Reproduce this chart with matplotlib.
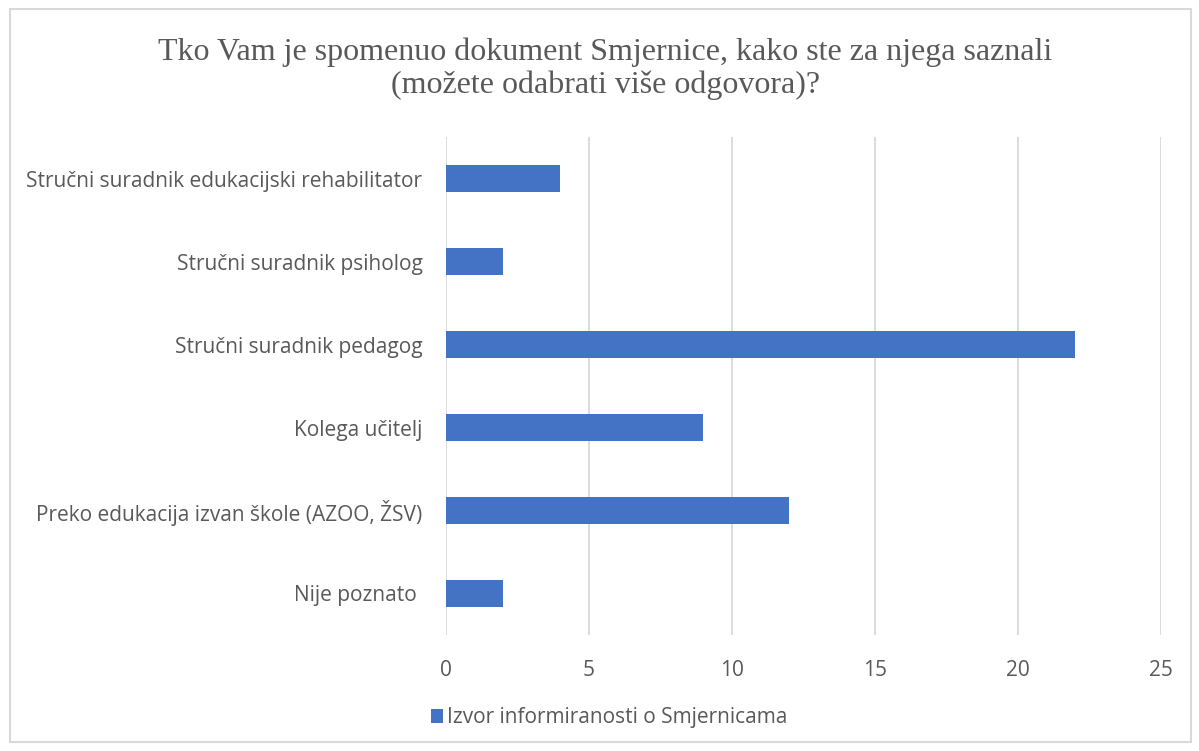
import matplotlib.pyplot as plt
from matplotlib.patches import Rectangle

# categories listed top to bottom as in the chart
categories = ["Stručni suradnik edukacijski rehabilitator",
              "Stručni suradnik psiholog",
              "Stručni suradnik pedagog",
              "Kolega učitelj",
              "Preko edukacija izvan škole (AZOO, ŽSV)",
              "Nije poznato "]
values = [4, 2, 22, 9, 12, 2]
series_name = "Izvor informiranosti o Smjernicama"
x_ticks = [0, 5, 10, 15, 20, 25]

title = "Tko Vam je spomenuo dokument Smjernice, kako ste za njega saznali\n(možete odabrati više odgovora)?"

text_color = "#595959"
bar_color = "#4472C4"
sans = ["Open Sans", "DejaVu Sans"]

fig = plt.figure(figsize=(11.99, 7.51), dpi=100)
ax = fig.add_axes([0.372, 0.1545, 0.596, 0.663])

pos = list(range(len(categories)))[::-1]
ax.barh(pos, values, height=0.32, color=bar_color, label=series_name, zorder=3)

ax.set_xlim(0, 25)
ax.set_ylim(-0.5, len(categories) - 0.5)
ax.set_xticks(x_ticks)
ax.set_yticks(pos)
ax.set_yticklabels(categories)
ax.grid(axis="x", color="#d9d9d9", linewidth=1.3, zorder=0)
for s in ax.spines.values():
    s.set_visible(False)
ax.tick_params(length=0, labelsize=15, labelcolor=text_color)
ax.tick_params(axis="y", pad=17)
ax.tick_params(axis="x", pad=18)
for lbl in ax.get_xticklabels() + ax.get_yticklabels():
    lbl.set_family(sans)

fig.text(0.505, 0.95, title, ha="center", va="top", fontsize=23,
         family=["Liberation Serif"], color=text_color, linespacing=1.15)

leg = fig.legend(loc="center", bbox_to_anchor=(0.508, 0.044), frameon=False,
                 prop={"family": sans, "size": 15}, handlelength=0.6,
                 handleheight=0.6, handletextpad=0.2)
for t in leg.get_texts():
    t.set_color(text_color)

# light grey frame around the whole chart
fig.patches.append(Rectangle((0.008, 0.012), 0.985, 0.976, transform=fig.transFigure,
                             fill=False, edgecolor="#d9d9d9", linewidth=1.5))

fig.savefig("out.png", dpi=100)
